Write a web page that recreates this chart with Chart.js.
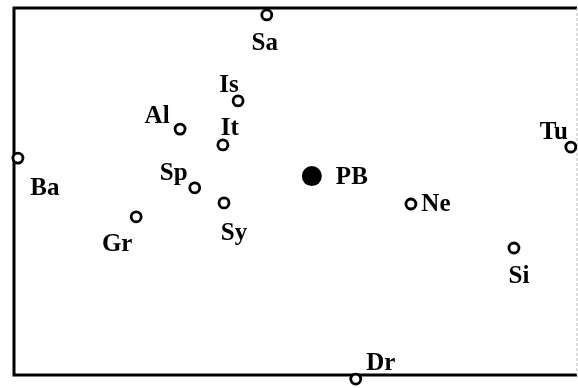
<!DOCTYPE html>
<html>
<head>
<meta charset="utf-8">
<script src="https://cdn.jsdelivr.net/npm/chart.js@4"></script>
<style>
  html, body { margin: 0; padding: 0; background: #fff; }
  #wrap { width: 578px; height: 388px; }
</style>
</head>
<body>
<div id="wrap"><canvas id="chart"></canvas></div>
<script>
// codici dei paesi e coordinate (unità arbitrarie, 0-10)
const labels = ["Sa", "Is", "Al", "It", "Ba", "Tu", "PB", "Sp", "Sy", "Ne", "Gr", "Si", "Dr"];
const xValues = [4.49, 3.98, 2.95, 3.71, 0.07, 9.89, 5.29, 3.21, 3.73, 7.05, 2.17, 8.88, 6.07];
const yValues = [9.81, 7.47, 6.70, 6.27, 5.91, 6.21, 5.42, 5.10, 4.69, 4.66, 4.31, 3.46, -0.11];
const highlighted = "PB";

// spostamento delle etichette rispetto al punto (pixel)
const labelOffset = {
    Sa: [-2, 29], Is: [-9, -15], Al: [-23, -13], It: [7, -16], Ba: [27, 30],
    Tu: [-17, -15], PB: [40, 1], Sp: [-21, -14], Sy: [10, 31], Ne: [25, 1],
    Gr: [-19, 28], Si: [5, 29], Dr: [25, -15]
};

const points = labels.map((l, i) => ({ x: xValues[i], y: yValues[i], name: l }));

// cornice: tre lati neri spessi, lato destro grigio chiaro
const framePlugin = {
    id: "frame",
    beforeDatasetsDraw(chart) {
        const { ctx, chartArea: a } = chart;
        ctx.save();
        ctx.strokeStyle = "#000";
        ctx.lineWidth = 3;
        ctx.beginPath();
        ctx.moveTo(a.right, a.top);
        ctx.lineTo(a.left, a.top);
        ctx.lineTo(a.left, a.bottom);
        ctx.lineTo(a.right, a.bottom);
        ctx.stroke();
        ctx.strokeStyle = "#bbb";
        ctx.lineWidth = 1;
        ctx.setLineDash([3, 2]);
        ctx.beginPath();
        ctx.moveTo(a.right, a.top);
        ctx.lineTo(a.right, a.bottom);
        ctx.stroke();
        ctx.restore();
    }
};

const labelPlugin = {
    id: "pointLabels",
    afterDatasetsDraw(chart) {
        const { ctx } = chart;
        const meta = chart.getDatasetMeta(0);
        ctx.save();
        ctx.font = "bold 25px 'Liberation Serif', 'Times New Roman', serif";
        ctx.fillStyle = "#000";
        ctx.textAlign = "center";
        ctx.textBaseline = "middle";
        meta.data.forEach((el, i) => {
            const off = labelOffset[labels[i]] || [0, 0];
            ctx.fillText(labels[i], el.x + off[0], el.y + off[1]);
        });
        ctx.restore();
    }
};

new Chart(document.getElementById("chart"), {
    type: "scatter",
    data: {
        datasets: [{
            data: points,
            clip: false,
            pointRadius: labels.map(l => l === highlighted ? 10 : 5),
            pointBorderWidth: labels.map(l => l === highlighted ? 0 : 2.8),
            pointBorderColor: "#000",
            pointBackgroundColor: labels.map(l => l === highlighted ? "#000" : "#fff")
        }]
    },
    options: {
        responsive: true,
        maintainAspectRatio: false,
        animation: false,
        layout: { autoPadding: false, padding: { left: 14, top: 8, right: 1, bottom: 13 } },
        plugins: { legend: { display: false }, tooltip: { enabled: false } },
        scales: {
            x: { display: false, min: 0, max: 10 },
            y: { display: false, min: 0, max: 10 }
        }
    },
    plugins: [framePlugin, labelPlugin]
});
</script>
</body>
</html>
